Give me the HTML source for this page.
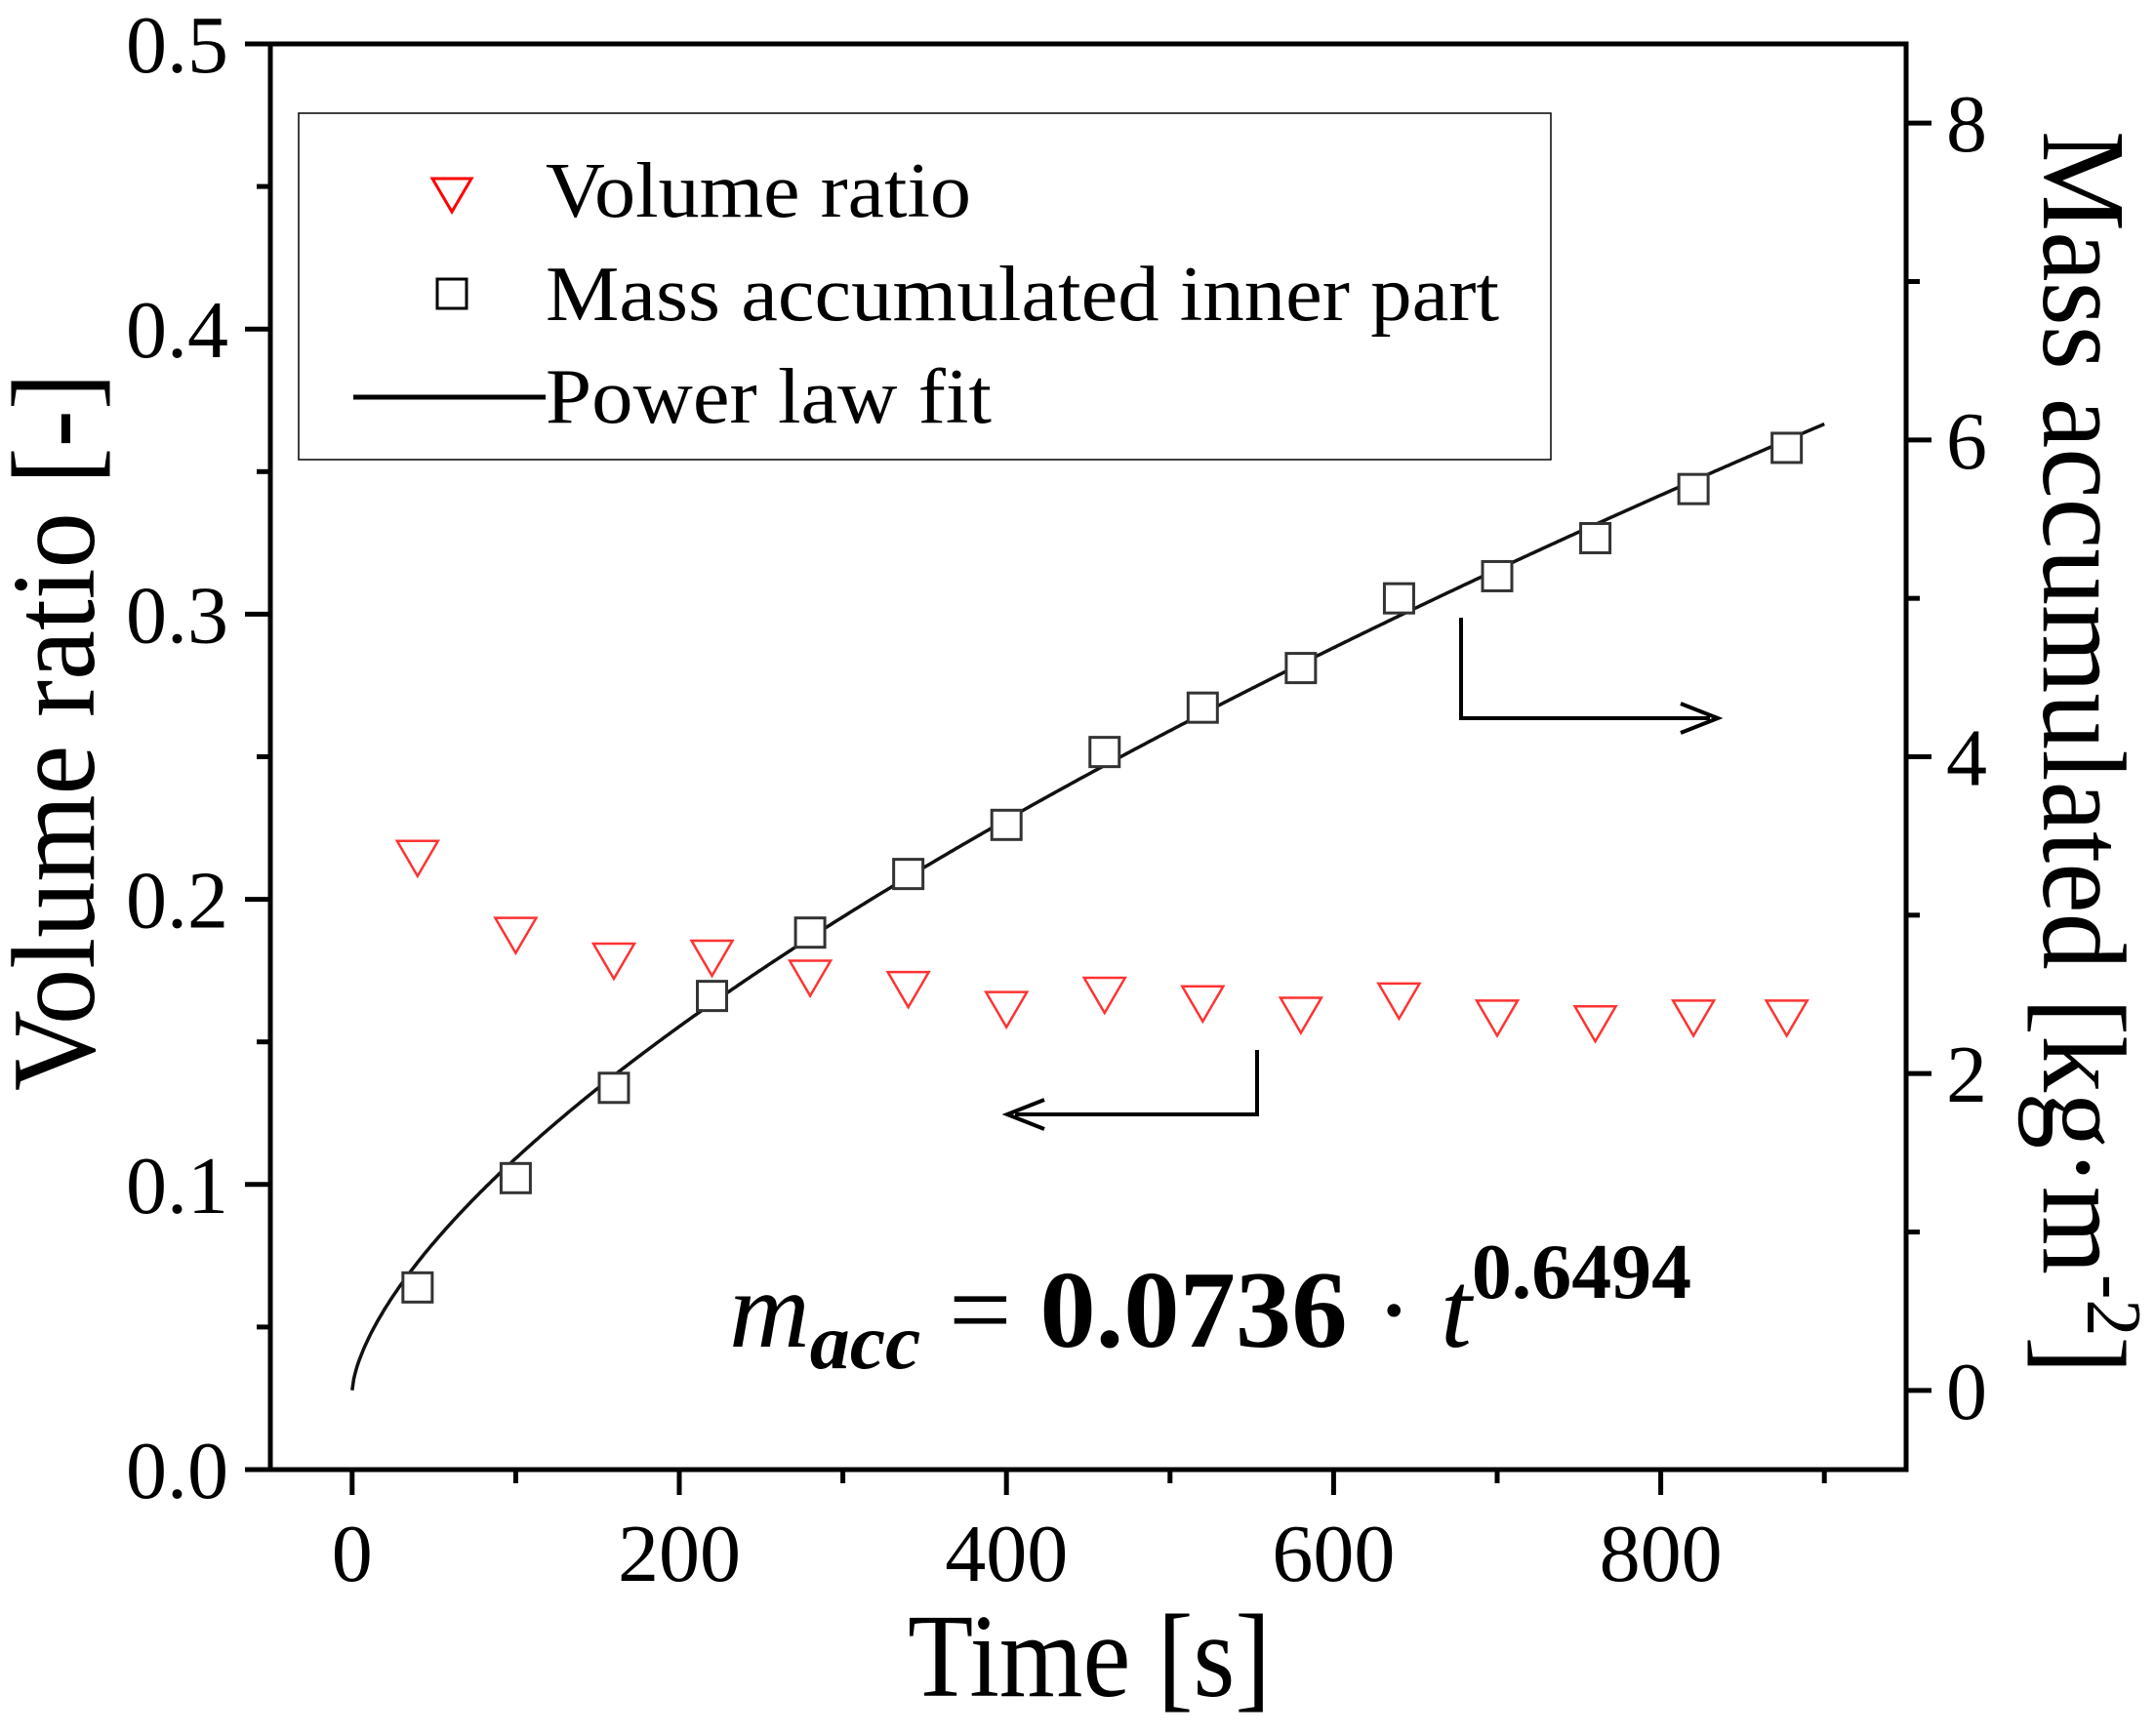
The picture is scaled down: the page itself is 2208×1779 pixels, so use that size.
<!DOCTYPE html>
<html><head><meta charset="utf-8"><style>
html,body{margin:0;padding:0;background:#fff;}
svg{display:block;font-family:"Liberation Serif",serif;}
</style></head><body>
<svg id="chart" width="2208" height="1779" viewBox="0 0 2208 1779" xmlns="http://www.w3.org/2000/svg">
<g id="marks"></g>
</svg>
<script>
const times = [40,100,160,220,280,340,400,460,520,580,640,700,760,820,877];
const volumeRatio = [0.215,0.188,0.179,0.180,0.173,0.169,0.162,0.167,0.164,0.160,0.165,0.159,0.157,0.159,0.159];
const massAcc = [0.65,1.34,1.91,2.49,2.89,3.26,3.57,4.03,4.31,4.56,5.00,5.14,5.38,5.69,5.95];
const fitCoef = 0.0736;
const fitExp = 0.6494;
const xTicks = [0,200,400,600,800];
const yLeftTicks = ["0.0","0.1","0.2","0.3","0.4","0.5"];
const yRightTicks = [0,2,4,6,8];

const L=277,R=1953,T=45,B=1506;
const X=t=>L+(t+50)/1000*(R-L);
const YL=v=>B-v/0.5*(B-T);
const YR=v=>B-(v+0.5)/9*(B-T);
const NS="http://www.w3.org/2000/svg";
const g=document.getElementById('marks');
function mk(tag,attrs,parent){const e=document.createElementNS(NS,tag);for(const k in attrs)e.setAttribute(k,attrs[k]);(parent||g).appendChild(e);return e;}

let fr=mk('rect',{x:L,y:T,width:R-L,height:B-T,fill:'none',stroke:'#000','stroke-width':5});



for(let t=0;t<=900;t+=100){
  const maj=t%200===0;
  let tk=mk('line',{x1:X(t),x2:X(t),y1:B,y2:B+(maj?26:14),stroke:'#000','stroke-width':5});
  
  
}
xTicks.forEach(t=>{
  let tx=mk('text',{x:X(t),y:1620,'font-size':84,'text-anchor':'middle'});
  tx.textContent=t;
  
  
});
for(let i=0;i<=10;i++){
  const v=i*0.05, maj=i%2===0;
  let tk=mk('line',{x1:L,x2:L-(maj?26:14),y1:YL(v),y2:YL(v),stroke:'#000','stroke-width':5});
  
  
}
yLeftTicks.forEach(s=>{
  let tx=mk('text',{x:234,y:YL(parseFloat(s))+29,'font-size':84,'text-anchor':'end'});
  tx.textContent=s;
  
  
});
for(let v=0;v<=8;v++){
  const maj=v%2===0;
  let tk=mk('line',{x1:R,x2:R+(maj?26:14),y1:YR(v),y2:YR(v),stroke:'#000','stroke-width':5});
  
  
}
yRightTicks.forEach(v=>{
  let tx=mk('text',{x:1994,y:YR(v)+29,'font-size':84,'text-anchor':'start'});
  tx.textContent=v;
  
  
});

let d='';
for(let i=0;i<=900;i++){const t=i;const m=fitCoef*Math.pow(t,fitExp);d+=(i?'L':'M')+X(t).toFixed(1)+','+YR(m).toFixed(1);}
let fit=mk('path',{d:d,fill:'none',stroke:'#111','stroke-width':3.5});



times.forEach((t,i)=>{
  const cx=X(t),cy=YL(volumeRatio[i]);
  let p=mk('polygon',{points:`${cx-21},${cy-16} ${cx+21},${cy-16} ${cx},${cy+20}`,fill:'none',stroke:'#f33','stroke-width':2.5});
  
  
});
times.forEach((t,i)=>{
  const cx=X(t),cy=YR(massAcc[i]);
  let r=mk('rect',{x:cx-15,y:cy-15,width:30,height:30,fill:'#fff',stroke:'#333','stroke-width':3});
  
  
});
</script>
<svg style="position:absolute;left:0;top:0" width="2208" height="1779" viewBox="0 0 2208 1779" xmlns="http://www.w3.org/2000/svg" font-family="Liberation Serif, serif">
<g>
  <rect x="306" y="116" width="1283" height="355" fill="#fff" stroke="#000" stroke-width="1.5"/>
  <polygon points="443,183 483,183 463,217" fill="none" stroke="#f00" stroke-width="3"/>
  <text x="559" y="222" font-size="80" textLength="436" lengthAdjust="spacingAndGlyphs">Volume ratio</text>
  <rect x="448" y="286" width="30" height="30" fill="#fff" stroke="#000" stroke-width="3"/>
  <text x="559" y="328" font-size="80" textLength="977" lengthAdjust="spacingAndGlyphs">Mass accumulated inner part</text>
  <line x1="362" y1="407" x2="559" y2="407" stroke="#000" stroke-width="5"/>
  <text x="559" y="433" font-size="80" textLength="457" lengthAdjust="spacingAndGlyphs">Power law fit</text>
</g>
<text x="930" y="1738" font-size="122" textLength="372" lengthAdjust="spacingAndGlyphs">Time [s]</text>
<text transform="translate(96,750) rotate(-90)" font-size="122" text-anchor="middle" textLength="736" lengthAdjust="spacingAndGlyphs">Volume ratio [-]</text>
<text transform="translate(2094,134) rotate(90)" font-size="122" textLength="1274" lengthAdjust="spacingAndGlyphs">Mass accumulated [kg·m<tspan dy="-45" font-size="80">-2</tspan><tspan dy="45">]</tspan></text>
<text x="747" y="1380" font-size="112" textLength="986" lengthAdjust="spacingAndGlyphs"><tspan font-style="italic">m</tspan><tspan font-style="italic" font-weight="bold" font-size="80" dy="22">acc</tspan><tspan dy="-22"> = </tspan><tspan font-weight="bold">0.0736</tspan><tspan> · </tspan><tspan font-style="italic">t</tspan><tspan font-weight="bold" font-size="80" dy="-50">0.6494</tspan></text>
<g>
  <polyline points="1497,633 1497,736 1752,736" fill="none" stroke="#000" stroke-width="4"/>
  <polyline points="1722,721 1760,736 1722,751" fill="none" stroke="#000" stroke-width="4"/>
</g>
<g>
  <polyline points="1288,1076 1288,1142 1040,1142" fill="none" stroke="#000" stroke-width="4"/>
  <polyline points="1070,1127 1032,1142 1070,1157" fill="none" stroke="#000" stroke-width="4"/>
</g>
</svg>
</body></html>
